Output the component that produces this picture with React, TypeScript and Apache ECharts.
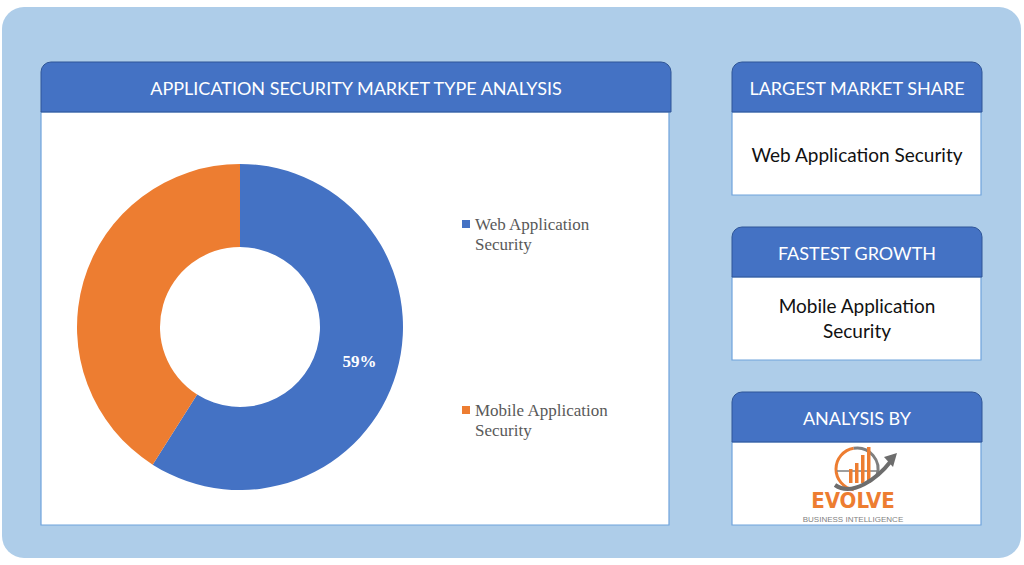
import React, { useEffect, useRef } from "react";
import * as echarts from "echarts";

const categories = ["Web Application Security", "Mobile Application Security"];
const shares = [59, 41];
const sliceColors = ["#4472c4", "#ed7d31"];
const chartTitle = "APPLICATION SECURITY MARKET TYPE ANALYSIS";
const cardTitles = ["LARGEST MARKET SHARE", "FASTEST GROWTH", "ANALYSIS BY"];
const cardTexts = ["Web Application Security", "Mobile Application\nSecurity"];
const logoWord = "EVOLVE";
const logoTagline = "BUSINESS INTELLIGENCE";

const SANS = "Lato, 'Open Sans', sans-serif";

function header(x: number, y: number, w: number, h: number, text: string) {
  return [
    {
      type: "rect",
      z: 1,
      shape: { x, y, width: w, height: h, r: [10, 10, 0, 0] },
      style: { fill: "#4472c4", stroke: "#2f5597", lineWidth: 1 },
    },
    {
      type: "text",
      z: 2,
      style: {
        text,
        x: x + w / 2,
        y: y + h / 2 + 1,
        align: "center",
        verticalAlign: "middle",
        fill: "#ffffff",
        fontSize: 18,
        fontFamily: SANS,
      },
    },
  ];
}

function body(x: number, y: number, w: number, h: number) {
  return {
    type: "rect",
    z: 1,
    shape: { x, y, width: w, height: h },
    style: { fill: "#ffffff", stroke: "#6fa3dc", lineWidth: 1.2 },
  };
}

function bodyText(x: number, y: number, text: string) {
  return {
    type: "text",
    z: 2,
    style: {
      text,
      x,
      y,
      align: "center",
      verticalAlign: "middle",
      fill: "#111111",
      fontSize: 19,
      lineHeight: 25,
      fontFamily: SANS,
    },
  };
}

function logo(cx: number, cy: number) {
  const bars = [
    { x: -8, h: 14 },
    { x: -2, h: 20 },
    { x: 4, h: 28 },
    { x: 10, h: 36 },
  ];
  const els: any[] = [
    {
      type: "arc",
      z: 2,
      shape: { cx, cy, r: 21, startAngle: Math.PI * 0.55, endAngle: Math.PI * 1.45 },
      style: { stroke: "#ed7d31", lineWidth: 3, fill: null },
    },
    {
      type: "arc",
      z: 2,
      shape: { cx, cy, r: 21, startAngle: Math.PI * 1.45, endAngle: Math.PI * 2.1 },
      style: { stroke: "#7f7f7f", lineWidth: 3, fill: null },
    },
    {
      type: "line",
      z: 2,
      shape: { x1: cx - 20, y1: cy + 2, x2: cx + 21, y2: cy + 2 },
      style: { stroke: "#7f7f7f", lineWidth: 1.5 },
    },
  ];
  bars.forEach((b) => {
    els.push({
      type: "rect",
      z: 2,
      shape: { x: cx + b.x, y: cy + 14 - b.h, width: 3.5, height: b.h },
      style: { fill: "#ed7d31" },
    });
  });
  els.push({
    type: "bezierCurve",
    z: 3,
    shape: {
      x1: cx - 22,
      y1: cy + 16,
      cpx1: cx - 5,
      cpy1: cy + 28,
      cpx2: cx + 20,
      cpy2: cy + 10,
      x2: cx + 34,
      y2: cy - 8,
    },
    style: { stroke: "#6d6d6d", lineWidth: 4, fill: null },
  });
  els.push({
    type: "polygon",
    z: 3,
    shape: {
      points: [
        [cx + 40, cy - 16],
        [cx + 27, cy - 12],
        [cx + 36, cy - 2],
      ],
    },
    style: { fill: "#6d6d6d" },
  });
  els.push({
    type: "text",
    z: 3,
    style: {
      text: logoWord,
      x: cx - 4,
      y: cy + 31,
      align: "center",
      verticalAlign: "middle",
      fill: "#ed7d31",
      fontSize: 22,
      fontWeight: "bold",
      fontFamily: "'Liberation Sans Narrow', 'DejaVu Sans Condensed', sans-serif",
    },
  });
  els.push({
    type: "text",
    z: 3,
    style: {
      text: logoTagline,
      x: cx - 4,
      y: cy + 50,
      align: "center",
      verticalAlign: "middle",
      fill: "#7f7f7f",
      fontSize: 8,
      fontFamily: "'Liberation Sans Narrow', sans-serif",
    },
  });
  return els;
}

export default function App() {
  const ref = useRef<HTMLDivElement>(null);

  useEffect(() => {
    if (!ref.current) return;
    const chart = echarts.init(ref.current, undefined, { renderer: "svg" });

    const graphics: any[] = [
      {
        type: "rect",
        z: 0,
        shape: { x: 2, y: 7, width: 1019, height: 551, r: 22 },
        style: { fill: "#aecde9" },
      },
      body(41, 112, 628, 413),
      ...header(41, 62, 630, 50, chartTitle),
      body(732, 112, 249, 83),
      ...header(732, 62, 250, 50, cardTitles[0]),
      bodyText(857, 154, cardTexts[0]),
      body(732, 277, 249, 83),
      ...header(732, 227, 250, 50, cardTitles[1]),
      bodyText(857, 318, cardTexts[1]),
      body(732, 442, 249, 83),
      ...header(732, 392, 250, 50, cardTitles[2]),
      ...logo(857, 469),
    ];

    chart.setOption({
      animation: false,
      graphic: { elements: graphics },
      legend: {
        orient: "vertical",
        left: 457,
        top: 189,
        itemGap: 126,
        icon: "rect",
        itemWidth: 8,
        itemHeight: 8,
        selectedMode: false,
        formatter: (name: string) => " \n" + name.replace(/ (\S+)$/, "\n$1"),
        textStyle: {
          color: "#595959",
          fontSize: 17,
          lineHeight: 20,
          fontFamily: "'Liberation Serif', serif",
        },
        data: categories,
      },
      series: [
        {
          type: "pie",
          z: 5,
          center: [240, 327],
          radius: [80, 163],
          startAngle: 90,
          clockwise: true,
          silent: true,
          label: { show: false },
          labelLine: { show: false },
          data: categories.map((name, i) => ({
            name,
            value: shares[i],
            itemStyle: { color: sliceColors[i] },
            label:
              i === 0
                ? {
                    show: true,
                    position: "inside",
                    formatter: "{c}%",
                    color: "#ffffff",
                    fontSize: 17,
                    fontWeight: "bold",
                    fontFamily: "'Liberation Serif', serif",
                  }
                : { show: false },
          })),
        },
      ],
    });

    return () => chart.dispose();
  }, []);

  return (
    <div
      ref={ref}
      style={{ position: "absolute", left: 0, top: 0, width: 1024, height: 565, background: "#ffffff" }}
    />
  );
}
